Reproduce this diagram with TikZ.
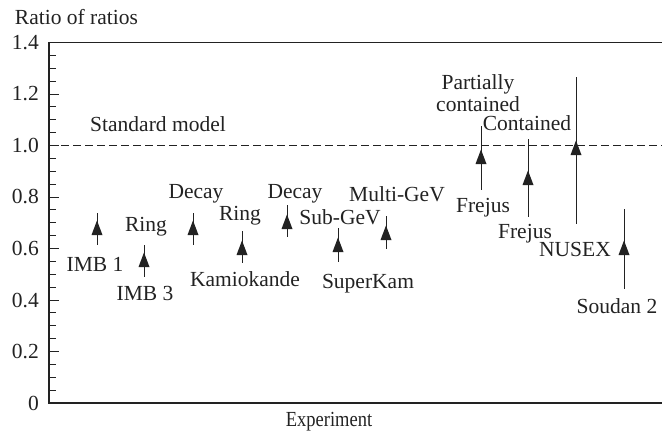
\documentclass[tikz,border=0pt]{standalone}
\usepackage{graphicx}
\usepackage{fontspec}
\setmainfont{Liberation Serif}
\definecolor{ink}{HTML}{222222}
\begin{document}
\begin{tikzpicture}[x=1pt,y=-1pt,
  lbl/.style={font=\fontsize{21.5}{24}\selectfont, text=ink, inner sep=0pt, anchor=base},
  ticklbl/.style={font=\fontsize{21.5}{24}\selectfont, text=ink, inner sep=0pt, anchor=east},
  ebar/.style={draw=ink, line width=1pt},
  tri/.style={fill=ink},
  axisline/.style={draw=ink, line width=1.2pt},
  tickline/.style={draw=ink, line width=0.9pt},
  refline/.style={draw=ink, line width=0.9pt, dash pattern=on 8pt off 4pt}]
\useasboundingbox (0,0) rectangle (662,442);
% axes
\coordinate (tl) at (49,42.5);
\coordinate (bl) at (49,403);
\coordinate (tr) at (662,42.5);
\coordinate (br) at (662,403);
\draw[axisline] (tr) -- (tl) -- (bl) -- (br);
% ticks
\foreach \i in {1,...,27} {
  \pgfmathsetmacro\yy{403-257.5*\i*0.05}
  \pgfmathsetmacro\len{ifthenelse(mod(\i,4)==0,10,7)}
  \draw[tickline] (49,\yy) -- ++(\len,0);
}
\foreach \v/\t in {0/0,0.2/0.2,0.4/0.4,0.6/0.6,0.8/0.8,1.0/1.0,1.2/1.2,1.4/1.4} {
  \pgfmathsetmacro\yy{403-257.5*\v}
  \node[ticklbl] (tick\t) at (39,\yy) {\t};
}
% reference line
\coordinate (refL) at (49,145.5);
\coordinate (refR) at (662,145.5);
\draw[refline] (refL) -- (refR);
% titles
\node[lbl] (ytitle) at (76.5,24) {Ratio of ratios};
\node[lbl] (xtitle) at (329,426.5) {\scalebox{0.86}[1]{Experiment}};
\node[lbl] (std) at (158,131.7) {Standard model};
% data: x / top / bottom / centre
\foreach \n/\x/\a/\b/\c in {p1/97/213/245/228, p2/144/245/277/260, p3/193/213/245/228,
  p4/242/231/263/248, p5/287/205/237/222, p6/338/228/262/245, p7/386/216/249/233,
  p8/481/126/190/157, p9/528/139/217/178, p10/576/77/224/148, p11/624/209/289/248} {
  \coordinate (\n top) at (\x,\a);
  \coordinate (\n bot) at (\x,\b);
  \draw[ebar] (\n top) -- (\n bot);
  \fill[tri] (\x,\c-7.5) -- (\x-5.5,\c+7) -- (\x+5.5,\c+7) -- cycle;
}
% labels
\node[lbl] (l1) at (95,271.7) {IMB 1};
\node[lbl] (l2) at (146,231.7) {Ring};
\node[lbl] (l3) at (145,300.7) {IMB 3};
\node[lbl] (l4) at (196,198) {Decay};
\node[lbl] (l5) at (240,220) {Ring};
\node[lbl] (l6) at (245,286) {Kamiokande};
\node[lbl] (l7) at (295,198) {Decay};
\node[lbl] (l8) at (340,224) {Sub-GeV};
\node[lbl] (l9) at (368,288) {SuperKam};
\node[lbl] (l10) at (397,201.7) {Multi-GeV};
\node[lbl] (l11) at (478,89.3) {Partially};
\node[lbl] (l12) at (478,111.7) {contained};
\node[lbl] (l13) at (527,130) {Contained};
\node[lbl] (l14) at (483,212.7) {Frejus};
\node[lbl] (l15) at (525,238) {Frejus};
\node[lbl] (l16) at (575,256.7) {NUSEX};
\node[lbl] (l17) at (617,313) {Soudan 2};
\end{tikzpicture}
\end{document}
